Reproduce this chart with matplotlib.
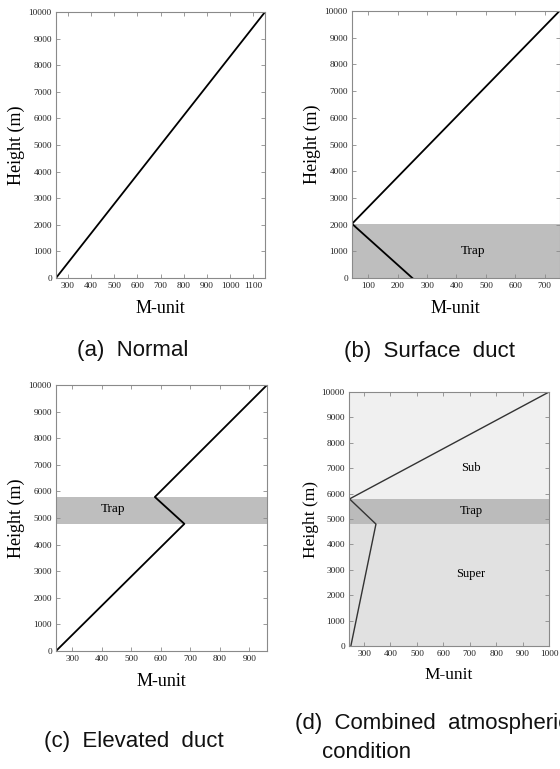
import matplotlib
matplotlib.use("Agg")
import matplotlib.pyplot as plt

# ── Data ───────────────────────────────────────────────────────────────────────
normal_m = [250, 1150]
normal_h = [0, 10000]

surface_m = [250, 45, 750]
surface_h = [0, 2030, 10000]
surface_trap = [0, 2030]

elevated_m = [245, 680, 580, 960]
elevated_h = [0, 4780, 5790, 10000]
elevated_trap = [4770, 5790]

combined_m = [250, 345, 245, 1000]
combined_h = [0, 4800, 5790, 10000]
combined_names = ["Sub", "Trap", "Super"]
combined_lo = [5790, 4800, 0]
combined_hi = [10000, 5790, 4800]

y_ticks = list(range(0, 10001, 1000))

# ── Layout helpers (pixel -> figure fraction) ─────────────────────────────────
W, H = 560, 769
SERIF = ["Liberation Serif", "DejaVu Serif"]
CAPTION = ["Liberation Sans", "DejaVu Sans"]
BAND_COLORS = ["#f0f0f0", "#bbbbbb", "#e1e1e1"]
BAND_LABEL_Y = [7000, 5300, 2850]

plt.rcParams["font.family"] = SERIF


def box(left, top, right, bottom):
    return [left / W, 1 - bottom / H, (right - left) / W, (bottom - top) / H]


def style_axes(ax, xlim, xticks):
    ax.set_xlim(*xlim)
    ax.set_ylim(0, 10000)
    ax.set_xticks(xticks)
    ax.set_yticks(y_ticks)
    ax.tick_params(direction="in", length=3, width=0.6, color="#8a8a8a",
                   top=True, right=True, labelsize=6.7, pad=3,
                   labelcolor="#222222")
    for sp in ax.spines.values():
        sp.set_color("#8a8a8a")
        sp.set_linewidth(0.8)


def axis_labels(ax, ylab_x, xlab_y, size=13):
    fig = ax.figure
    pos = ax.get_position()
    fig.text((pos.x0 + pos.x1) / 2, 1 - xlab_y / H, "M-unit", ha="center",
             va="center", fontsize=size)
    fig.text(ylab_x / W, (pos.y0 + pos.y1) / 2, "Height (m)", ha="center",
             va="center", rotation=90, fontsize=size)


def caption(x, y, s, ha="center"):
    fig.text(x / W, 1 - y / H, s, ha=ha, va="center", family=CAPTION,
             fontsize=16, color="#111111")


fig = plt.figure(figsize=(W / 100, H / 100), dpi=100)

# (a) Normal
ax_a = fig.add_axes(box(56, 12, 265, 278))
ax_a.plot(normal_m, normal_h, color="black", lw=1.3)
style_axes(ax_a, (250, 1150), list(range(300, 1101, 100)))
axis_labels(ax_a, 16, 309)

# (b) Surface duct
ax_b = fig.add_axes(box(352, 11, 559.5, 278))
ax_b.axhspan(*surface_trap, color="#bebebe", lw=0)
ax_b.plot(surface_m, surface_h, color="black", lw=1.3)
ax_b.text(455, 1000, "Trap", ha="center", va="center", fontsize=9.5)
style_axes(ax_b, (45, 750), list(range(100, 701, 100)))
axis_labels(ax_b, 312, 309)

# (c) Elevated duct
ax_c = fig.add_axes(box(56, 385, 267, 651))
ax_c.axhspan(*elevated_trap, color="#bebebe", lw=0)
ax_c.plot(elevated_m, elevated_h, color="black", lw=1.3)
ax_c.text(440, 5330, "Trap", ha="center", va="center", fontsize=9.5)
style_axes(ax_c, (245, 960), list(range(300, 901, 100)))
axis_labels(ax_c, 16, 682)

# (d) Combined atmospheric condition
ax_d = fig.add_axes(box(349, 392, 549, 646))
for name, lo, hi, col, ly in zip(combined_names, combined_lo, combined_hi,
                                  BAND_COLORS, BAND_LABEL_Y):
    ax_d.axhspan(lo, hi, color=col, lw=0)
    ax_d.text(705, ly, name, ha="center", va="center", fontsize=9)
ax_d.plot(combined_m, combined_h, color="#333333", lw=1.0)
style_axes(ax_d, (243, 1000), list(range(300, 1001, 100)))
axis_labels(ax_d, 311, 675, size=12.5)

# Captions
caption(133, 350, "(a)  Normal")
caption(429, 352, "(b)  Surface  duct")
caption(134, 742, "(c)  Elevated  duct")
caption(295, 723, "(d)  Combined  atmospheric", ha="left")
caption(322, 752, "condition", ha="left")

fig.savefig("out.png", dpi=100)
